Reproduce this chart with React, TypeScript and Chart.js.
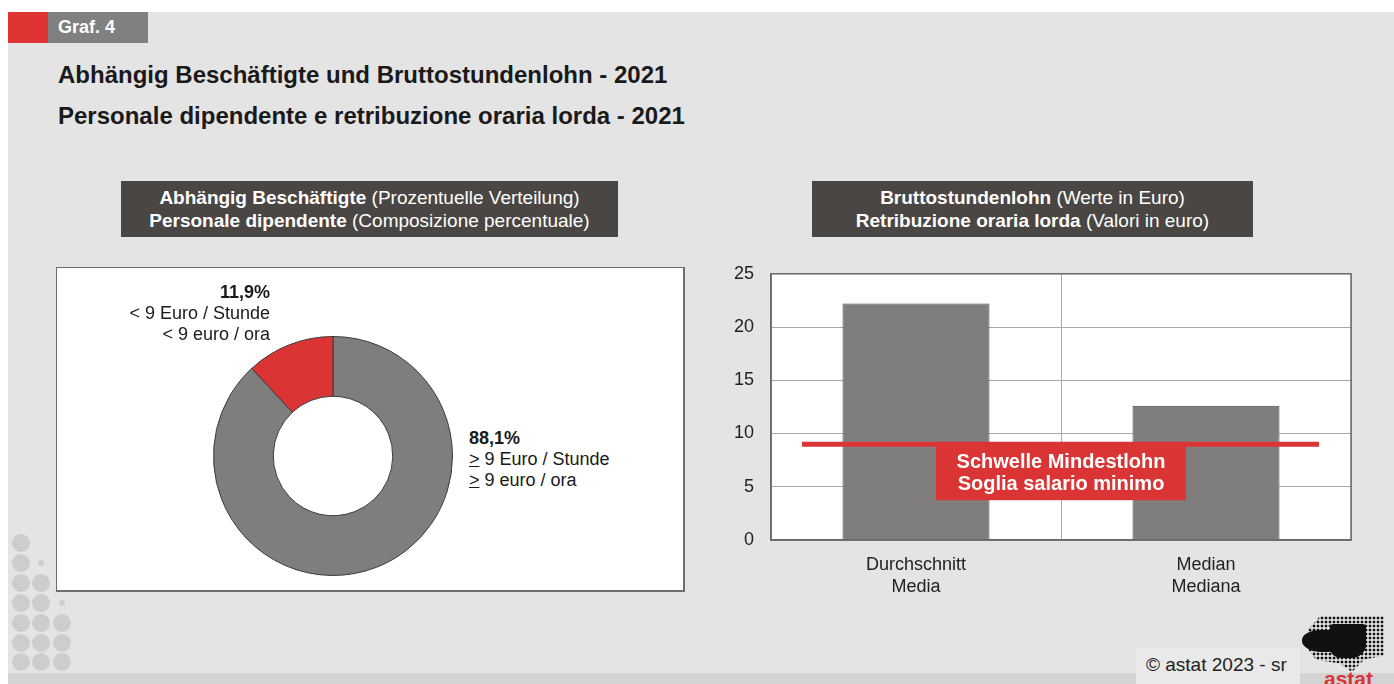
import React, { useEffect, useRef } from "react";
import { Chart, registerables } from "chart.js";

Chart.register(...registerables);

const FONT = '"Liberation Sans", Arial, Helvetica, sans-serif';
const RED = "#db3434";
const GRAY = "#807e7c";

// ---- Data ----
const shareLabels = ["≥ 9 Euro / Stunde", "< 9 Euro / Stunde"];
const shareValues = [88.1, 11.9];
const shareColors = [GRAY, RED];

const wageCategories = [
  ["Durchschnitt", "Media"],
  ["Median", "Mediana"],
];
const wageValues = [22.2, 12.6];
const minWageThreshold = 9;
const yMin = 0;
const yMax = 25;
const yStep = 5;

const DoughnutChart: React.FC = () => {
  const ref = useRef<HTMLCanvasElement | null>(null);
  useEffect(() => {
    if (!ref.current) return;
    const chart = new Chart(ref.current, {
      type: "doughnut",
      data: {
        labels: shareLabels,
        datasets: [
          {
            data: shareValues,
            backgroundColor: shareColors,
            borderColor: "#3a3a3a",
            borderWidth: 1,
          },
        ],
      },
      options: {
        responsive: false,
        animation: false,
        cutout: "50%",
        rotation: 0,
        layout: { padding: 0 },
        plugins: { legend: { display: false }, tooltip: { enabled: false } },
      },
    });
    return () => chart.destroy();
  }, []);
  return <canvas ref={ref} width={240} height={240} style={{ position: "absolute", left: 213, top: 336, width: 240, height: 240 }} />;
};

const BarChart: React.FC = () => {
  const ref = useRef<HTMLCanvasElement | null>(null);
  useEffect(() => {
    if (!ref.current) return;
    const plotFrame = {
      id: "plotFrame",
      beforeDraw(chart: any) {
        const { ctx, chartArea: a } = chart;
        ctx.save();
        ctx.fillStyle = "#ffffff";
        ctx.fillRect(a.left, a.top, a.right - a.left, a.bottom - a.top);
        ctx.restore();
      },
      afterDraw(chart: any) {
        const { ctx, chartArea: a } = chart;
        ctx.save();
        ctx.strokeStyle = "#6a6a6a";
        ctx.lineWidth = 1.5;
        ctx.strokeRect(a.left, a.top, a.right - a.left, a.bottom - a.top);
        ctx.restore();
      },
    };
    const threshold = {
      id: "threshold",
      afterDatasetsDraw(chart: any) {
        const { ctx, chartArea: a } = chart;
        const y = chart.scales.y.getPixelForValue(minWageThreshold);
        ctx.save();
        ctx.strokeStyle = RED;
        ctx.lineWidth = 5;
        ctx.beginPath();
        ctx.moveTo(a.left + 31, y);
        ctx.lineTo(a.right - 32, y);
        ctx.stroke();
        const cx = (a.left + a.right) / 2;
        const bw = 250;
        const bh = 56;
        ctx.fillStyle = RED;
        ctx.fillRect(cx - bw / 2, y, bw, bh);
        ctx.fillStyle = "#ffffff";
        ctx.font = `bold 20px ${FONT}`;
        ctx.textAlign = "center";
        ctx.textBaseline = "middle";
        ctx.fillText("Schwelle Mindestlohn", cx, y + 18);
        ctx.fillText("Soglia salario minimo", cx, y + 40);
        ctx.restore();
      },
    };
    const chart = new Chart(ref.current, {
      type: "bar",
      data: {
        labels: wageCategories as any,
        datasets: [
          {
            data: wageValues,
            backgroundColor: GRAY,
            borderColor: "#4a4a4a",
            borderWidth: 1,
            barPercentage: 0.507,
            categoryPercentage: 1,
          },
        ],
      },
      options: {
        responsive: false,
        animation: false,
        layout: { padding: { top: 0, right: 29, left: 0, bottom: 0 } },
        plugins: { legend: { display: false }, tooltip: { enabled: false } },
        scales: {
          x: {
            grid: { color: "#a8a8a8", lineWidth: 1, drawTicks: false, offset: true },
            border: { display: true, color: "#6a6a6a", width: 1.5 },
            ticks: { color: "#222", font: { family: FONT, size: 18, lineHeight: 1.17 }, padding: 15 },
            afterFit(scale: any) {
              scale.height = 60;
            },
          },
          y: {
            min: yMin,
            max: yMax,
            ticks: { stepSize: yStep, color: "#222", font: { family: FONT, size: 18 }, padding: 17 },
            grid: { color: "#a8a8a8", lineWidth: 1, drawTicks: false },
            border: { display: true, color: "#6a6a6a", width: 1.5 },
            afterFit(scale: any) {
              scale.width = 71;
            },
          },
        },
      },
      plugins: [plotFrame, threshold],
    });
    return () => chart.destroy();
  }, []);
  return <canvas ref={ref} width={680} height={354} style={{ position: "absolute", left: 700, top: 246, width: 680, height: 354 }} />;
};

const abs = (l: number, t: number, w: number, h: number, extra: React.CSSProperties = {}): React.CSSProperties => ({
  position: "absolute",
  left: l,
  top: t,
  width: w,
  height: h,
  ...extra,
});

const circles: Array<[number, number, number]> = [
  [21, 543, 9], [21, 563, 9], [21, 583, 9], [21, 603, 9], [21, 623, 9], [21, 643, 9], [21, 662, 9],
  [41, 563, 3], [41, 583, 9], [41, 603, 9], [41, 623, 9], [41, 643, 9], [41, 662, 9],
  [62, 603, 3], [62, 623, 9], [62, 643, 9], [62, 662, 9],
];

const headerStyle = (l: number, w: number): React.CSSProperties =>
  abs(l, 181, w, 56, {
    background: "#4a4644",
    color: "#fff",
    fontFamily: FONT,
    fontSize: 19,
    lineHeight: "23px",
    display: "flex",
    flexDirection: "column",
    alignItems: "center",
    justifyContent: "center",
    whiteSpace: "nowrap",
  });

export default function App() {
  const txt: React.CSSProperties = { fontFamily: FONT, color: "#1a1a1a" };
  return (
    <div style={{ position: "absolute", left: 0, top: 0, width: 1394, height: 684, overflow: "hidden", background: "#ffffff" }}>
      <div style={abs(8, 12, 1386, 672, { background: "#e4e4e4" })} />
      {/* bottom band */}
      <div style={abs(8, 673, 1386, 11, { background: "#d3d3d3" })} />
      {circles.map(([x, y, r], i) => (
        <div key={i} style={abs(x - r, y - r, 2 * r, 2 * r, { borderRadius: "50%", background: "#cdcdcd" })} />
      ))}
      {/* Graf. 4 tag */}
      <div style={abs(8, 12, 40, 31, { background: "#e03434" })} />
      <div style={abs(48, 12, 100, 31, { background: "#808080" })} />
      <div style={abs(58, 12, 90, 31, { ...txt, color: "#fff", fontWeight: "bold", fontSize: 18, lineHeight: "31px" })}>Graf. 4</div>
      {/* Titles */}
      <div style={abs(58, 62, 900, 26, { ...txt, fontWeight: "bold", fontSize: 24, lineHeight: "26px", whiteSpace: "nowrap" })}>
        Abhängig Beschäftigte und Bruttostundenlohn - 2021
      </div>
      <div style={abs(58, 103, 900, 26, { ...txt, fontWeight: "bold", fontSize: 24, lineHeight: "26px", whiteSpace: "nowrap" })}>
        Personale dipendente e retribuzione oraria lorda - 2021
      </div>
      {/* Panel headers */}
      <div style={headerStyle(121, 497)}>
        <div><b>Abhängig Beschäftigte</b> (Prozentuelle Verteilung)</div>
        <div><b>Personale dipendente</b> (Composizione percentuale)</div>
      </div>
      <div style={headerStyle(812, 441)}>
        <div><b>Bruttostundenlohn</b> (Werte in Euro)</div>
        <div><b>Retribuzione oraria lorda</b> (Valori in euro)</div>
      </div>
      {/* Doughnut panel */}
      <div style={abs(56, 267, 626, 322, { background: "#fff", border: "1px solid #6e6e6e", borderBottomWidth: 2, borderRightWidth: 2 })} />
      <DoughnutChart />
      <div style={{ position: "absolute", right: 1394 - 270, top: 282, ...txt, fontSize: 18, lineHeight: "21px", textAlign: "right", whiteSpace: "nowrap" }}>
        <div style={{ fontWeight: "bold" }}>11,9%</div>
        <div>&lt; 9 Euro / Stunde</div>
        <div>&lt; 9 euro / ora</div>
      </div>
      <div style={{ position: "absolute", left: 469, top: 428, ...txt, fontSize: 18, lineHeight: "21px", whiteSpace: "nowrap" }}>
        <div style={{ fontWeight: "bold" }}>88,1%</div>
        <div><u>&gt;</u> 9 Euro / Stunde</div>
        <div><u>&gt;</u> 9 euro / ora</div>
      </div>
      {/* Bar chart */}
      <BarChart />
      {/* Footer */}
      <div style={abs(1136, 648, 164, 36, { background: "#e9e9e9" })} />
      <div style={abs(1146, 653, 160, 24, { ...txt, fontSize: 19, lineHeight: "24px", whiteSpace: "nowrap", color: "#222" })}>
        © astat 2023 - sr
      </div>
      {/* Logo */}
      <div
        style={abs(1304, 616, 80, 56, {
          backgroundImage: "radial-gradient(circle, #111 50%, transparent 58%)",
          backgroundSize: "4px 4px",
          clipPath: "polygon(20% 0%, 100% 0%, 100% 70%, 75% 78%, 60% 100%, 45% 85%, 15% 78%, 0% 50%, 5% 25%)",
        })}
      />
      <div style={abs(1302, 630, 40, 22, { background: "#111", borderRadius: "45% 25% 35% 50%" })} />
      <div style={abs(1330, 624, 36, 34, { background: "#111", borderRadius: "10% 10% 40% 30%" })} />
      <div style={abs(1324, 668, 70, 22, { fontFamily: FONT, fontWeight: "bold", fontSize: 21, color: RED, lineHeight: "22px" })}>astat</div>
    </div>
  );
}
